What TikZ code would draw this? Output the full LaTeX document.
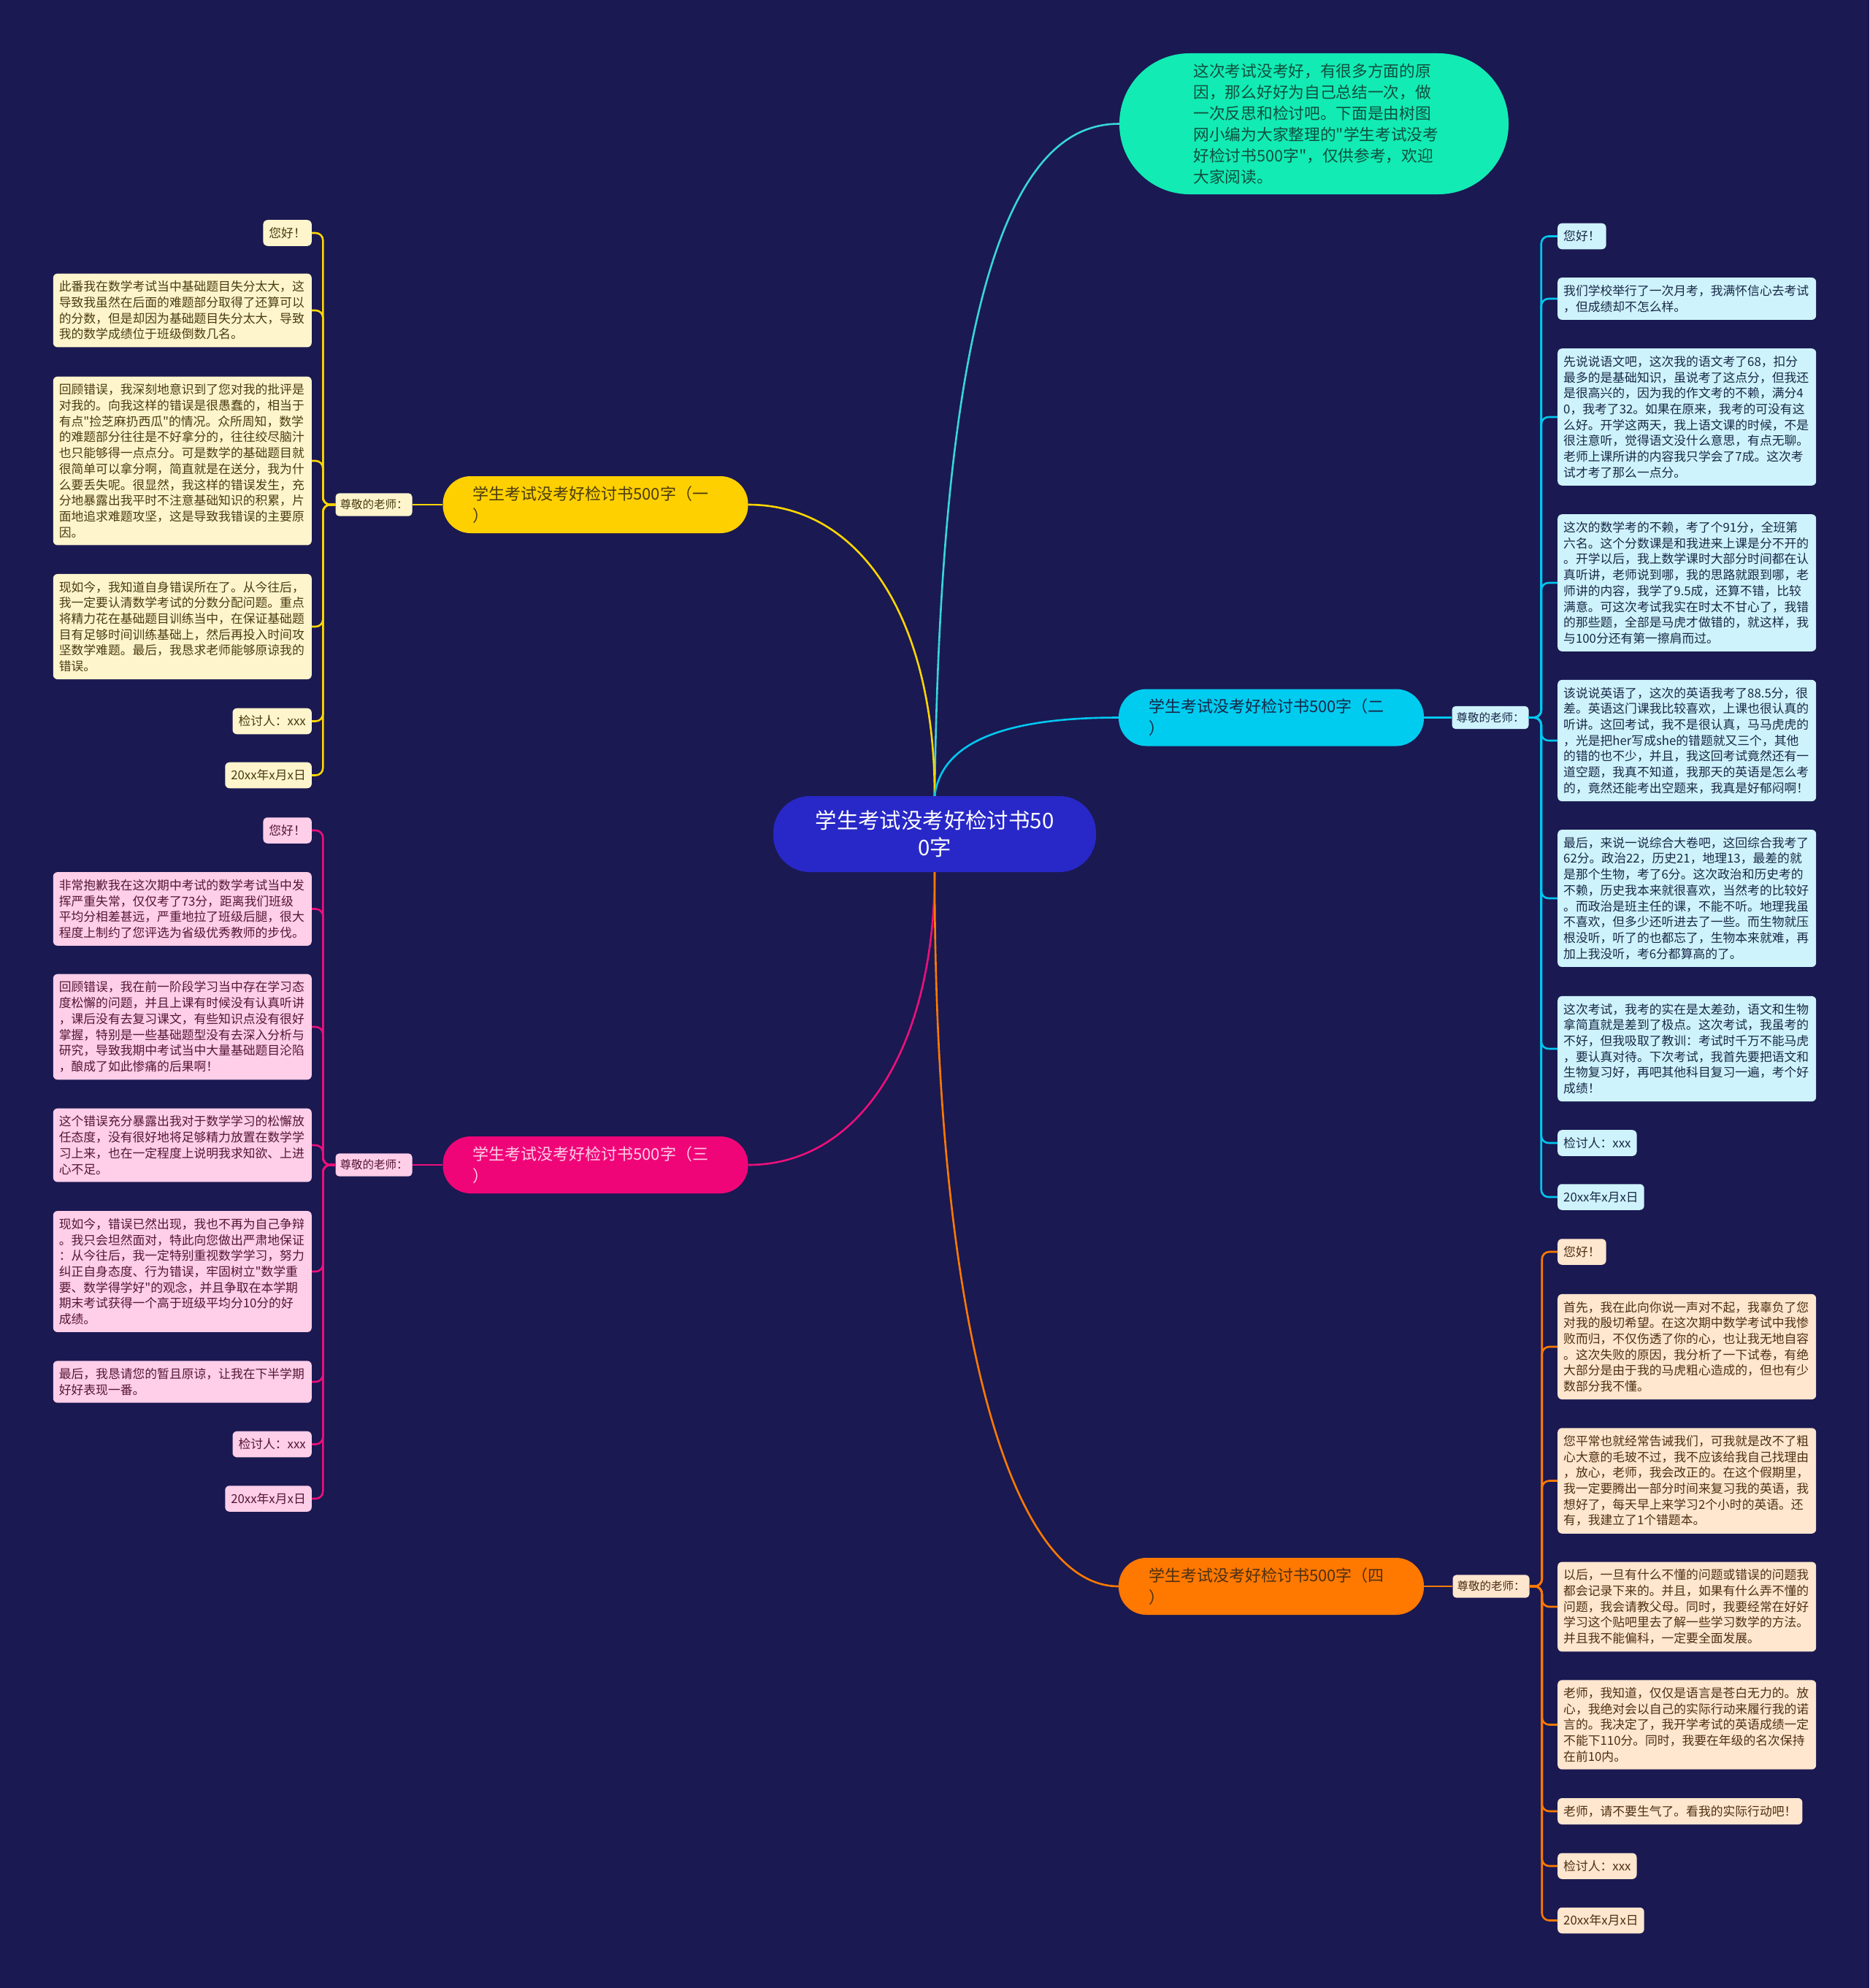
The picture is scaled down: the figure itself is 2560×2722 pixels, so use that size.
\documentclass[tikz,border=0pt]{standalone}
\usepackage{fontspec}
\setmainfont{Noto Sans CJK SC}[Ligatures=TeXOff]

\definecolor{bgnavy}{RGB}{26,25,82}
\definecolor{hubblue}{RGB}{40,40,200}
\definecolor{introfill}{RGB}{18,235,180}
\definecolor{introtext}{RGB}{16,80,62}
\definecolor{introline}{RGB}{56,214,214}
\definecolor{ylwfill}{RGB}{255,208,0}
\definecolor{ylwline}{RGB}{255,214,0}
\definecolor{ylwleaf}{RGB}{255,245,204}
\definecolor{ylwtext}{RGB}{74,60,16}
\definecolor{cyanfill}{RGB}{0,204,240}
\definecolor{cyanline}{RGB}{0,200,238}
\definecolor{cyanleaf}{RGB}{206,243,252}
\definecolor{cyantext}{RGB}{24,40,70}
\definecolor{pinkfill}{RGB}{240,5,120}
\definecolor{pinkline}{RGB}{236,16,122}
\definecolor{pinkleaf}{RGB}{255,206,232}
\definecolor{pinktext}{RGB}{84,22,52}
\definecolor{orgfill}{RGB}{255,120,0}
\definecolor{orgline}{RGB}{255,122,0}
\definecolor{orgleaf}{RGB}{255,230,206}
\definecolor{orgtext}{RGB}{78,48,18}

\newcommand\leaffont{\fontsize{16.8}{21.7}\selectfont}
\newcommand\tagfont{\fontsize{15.5}{19}\selectfont}
\newcommand\topicfont{\fontsize{22}{30}\selectfont}
\newcommand\hubfont{\fontsize{29.4}{37}\selectfont}
\newcommand\introfont{\fontsize{21.7}{29}\selectfont}

\tikzset{
  leafbox/.style={rounded corners=6pt, inner xsep=8pt, inner ysep=10pt,
    font=\leaffont, align=left},
  wideleaf/.style={leafbox, text width=338pt},
  tagbox/.style={rounded corners=5pt, inner xsep=6pt, inner ysep=8.5pt,
    font=\tagfont},
  topicbox/.style={rounded corners=38pt, minimum width=418pt,
    minimum height=78pt, text width=336pt, align=left, font=\topicfont},
  ylw/.style={fill=ylwleaf, text=ylwtext},
  cyn/.style={fill=cyanleaf, text=cyantext},
  pnk/.style={fill=pinkleaf, text=pinktext},
  org/.style={fill=orgleaf, text=orgtext},
  link/.style={line width=2.6pt, rounded corners=10pt}
}

\begin{document}
\begin{tikzpicture}[x=1pt, y=-1pt]
\useasboundingbox (0,0) rectangle (2560,2722);
\fill[bgnavy] (0,0) rectangle (2560,2722);

% centre and intro
\node[fill=hubblue, text=white, rounded corners=50pt, minimum width=442pt,
      minimum height=104pt, align=center, font=\hubfont] (hub) at (1280,1142)
  {学生考试没考好检讨书50\\0字};
\node[fill=introfill, text=introtext, rounded corners=96pt, minimum width=533pt,
      minimum height=193pt, text width=330pt, align=left, font=\introfont]
  (intro) at (1799.5,169.5)
  {这次考试没考好，有很多方面的原\\因，那么好好为自己总结一次，做\\一次反思和检讨吧。下面是由树图\\网小编为大家整理的"学生考试没考\\好检讨书500字"，仅供参考，欢迎\\大家阅读。};

% four topics
\node[topicbox, fill=ylwfill, text=ylwtext] (t1) at (815.5,691)
  {学生考试没考好检讨书500字（一\\）};
\node[topicbox, fill=cyanfill, text=cyantext] (t2) at (1741,982.5)
  {学生考试没考好检讨书500字（二\\）};
\node[topicbox, fill=pinkfill, text=pinkleaf] (t3) at (815.5,1595)
  {学生考试没考好检讨书500字（三\\）};
\node[topicbox, fill=orgfill, text=orgtext] (t4) at (1741,2172)
  {学生考试没考好检讨书500字（四\\）};

\draw[introline, line width=2.6pt] (hub.north) .. controls (1290,300) and (1420,169.5) .. (intro.west);
\draw[ylwline, line width=2.6pt] (hub.north) .. controls (1280,850) and (1180,691) .. (t1.east);
\draw[cyanline, line width=2.6pt] (hub.north) .. controls (1290,1010) and (1390,982.5) .. (t2.west);
\draw[pinkline, line width=2.6pt] (hub.south) .. controls (1280,1430) and (1180,1595) .. (t3.east);
\draw[orgline, line width=2.6pt] (hub.south) .. controls (1280,1800) and (1380,2172) .. (t4.west);

% salutation tags
\node[tagbox, ylw] (g1) at (512,691) {尊敬的老师：};
\node[tagbox, cyn] (g2) at (2041,982.5) {尊敬的老师：};
\node[tagbox, pnk] (g3) at (512,1595) {尊敬的老师：};
\node[tagbox, org] (g4) at (2042,2172) {尊敬的老师：};
\draw[ylwline, line width=2.6pt] (t1.west) -- (g1.east);
\draw[cyanline, line width=2.6pt] (t2.east) -- (g2.west);
\draw[pinkline, line width=2.6pt] (t3.west) -- (g3.east);
\draw[orgline, line width=2.6pt] (t4.east) -- (g4.west);

% branch one
\node[leafbox, ylw, anchor=east] (y1) at (427,319) {您好！};
\node[wideleaf, ylw, anchor=east] (y2) at (427,425)
  {此番我在数学考试当中基础题目失分太大，这\\导致我虽然在后面的难题部分取得了还算可以\\的分数，但是却因为基础题目失分太大，导致\\我的数学成绩位于班级倒数几名。};
\node[wideleaf, ylw, anchor=east] (y3) at (427,631)
  {回顾错误，我深刻地意识到了您对我的批评是\\对我的。向我这样的错误是很愚蠢的，相当于\\有点"捡芝麻扔西瓜"的情况。众所周知，数学\\的难题部分往往是不好拿分的，往往绞尽脑汁\\也只能够得一点点分。可是数学的基础题目就\\很简单可以拿分啊，简直就是在送分，我为什\\么要丢失呢。很显然，我这样的错误发生，充\\分地暴露出我平时不注意基础知识的积累，片\\面地追求难题攻坚，这是导致我错误的主要原\\因。};
\node[wideleaf, ylw, anchor=east] (y4) at (427,858)
  {现如今，我知道自身错误所在了。从今往后，\\我一定要认清数学考试的分数分配问题。重点\\将精力花在基础题目训练当中，在保证基础题\\目有足够时间训练基础上，然后再投入时间攻\\坚数学难题。最后，我恳求老师能够原谅我的\\错误。};
\node[leafbox, ylw, anchor=east] (y5) at (427,987.5) {检讨人：xxx};
\node[leafbox, ylw, anchor=east] (y6) at (427,1061.5) {20xx年x月x日};
\foreach \n in {y1,y2,y3,y4,y5,y6}
  \draw[link, ylwline] (g1.west) -- ++(-17,0) |- (\n.east);

% branch two
\node[leafbox, cyn, anchor=west] (c1) at (2133,323.5) {您好！};
\node[wideleaf, cyn, anchor=west] (c2) at (2133,409)
  {我们学校举行了一次月考，我满怀信心去考试\\，但成绩却不怎么样。};
\node[wideleaf, cyn, anchor=west] (c3) at (2133,571)
  {先说说语文吧，这次我的语文考了68，扣分\\最多的是基础知识，虽说考了这点分，但我还\\是很高兴的，因为我的作文考的不赖，满分4\\0，我考了32。如果在原来，我考的可没有这\\么好。开学这两天，我上语文课的时候，不是\\很注意听，觉得语文没什么意思，有点无聊。\\老师上课所讲的内容我只学会了7成。这次考\\试才考了那么一点分。};
\node[wideleaf, cyn, anchor=west] (c4) at (2133,798)
  {这次的数学考的不赖，考了个91分，全班第\\六名。这个分数课是和我进来上课是分不开的\\。开学以后，我上数学课时大部分时间都在认\\真听讲，老师说到哪，我的思路就跟到哪，老\\师讲的内容，我学了9.5成，还算不错，比较\\满意。可这次考试我实在时太不甘心了，我错\\的那些题，全部是马虎才做错的，就这样，我\\与100分还有第一擦肩而过。};
\node[wideleaf, cyn, anchor=west] (c5) at (2133,1014)
  {该说说英语了，这次的英语我考了88.5分，很\\差。英语这门课我比较喜欢，上课也很认真的\\听讲。这回考试，我不是很认真，马马虎虎的\\，光是把her写成she的错题就又三个，其他\\的错的也不少，并且，我这回考试竟然还有一\\道空题，我真不知道，我那天的英语是怎么考\\的，竟然还能考出空题来，我真是好郁闷啊！};
\node[wideleaf, cyn, anchor=west] (c6) at (2133,1230)
  {最后，来说一说综合大卷吧，这回综合我考了\\62分。政治22，历史21，地理13，最差的就\\是那个生物，考了6分。这次政治和历史考的\\不赖，历史我本来就很喜欢，当然考的比较好\\。而政治是班主任的课，不能不听。地理我虽\\不喜欢，但多少还听进去了一些。而生物就压\\根没听，听了的也都忘了，生物本来就难，再\\加上我没听，考6分都算高的了。};
\node[wideleaf, cyn, anchor=west] (c7) at (2133,1436)
  {这次考试，我考的实在是太差劲，语文和生物\\拿简直就是差到了极点。这次考试，我虽考的\\不好，但我吸取了教训：考试时千万不能马虎\\，要认真对待。下次考试，我首先要把语文和\\生物复习好，再吧其他科目复习一遍，考个好\\成绩！};
\node[leafbox, cyn, anchor=west] (c8) at (2133,1565) {检讨人：xxx};
\node[leafbox, cyn, anchor=west] (c9) at (2133,1639) {20xx年x月x日};
\foreach \n in {c1,c2,c3,c4,c5,c6,c7,c8,c9}
  \draw[link, cyanline] (g2.east) -- ++(17,0) |- (\n.west);

% branch three
\node[leafbox, pnk, anchor=east] (p1) at (427,1137) {您好！};
\node[wideleaf, pnk, anchor=east] (p2) at (427,1244.5)
  {非常抱歉我在这次期中考试的数学考试当中发\\挥严重失常，仅仅考了73分，距离我们班级\\平均分相差甚远，严重地拉了班级后腿，很大\\程度上制约了您评选为省级优秀教师的步伐。};
\node[wideleaf, pnk, anchor=east] (p3) at (427,1406)
  {回顾错误，我在前一阶段学习当中存在学习态\\度松懈的问题，并且上课有时候没有认真听讲\\，课后没有去复习课文，有些知识点没有很好\\掌握，特别是一些基础题型没有去深入分析与\\研究，导致我期中考试当中大量基础题目沦陷\\，酿成了如此惨痛的后果啊！};
\node[wideleaf, pnk, anchor=east] (p4) at (427,1568)
  {这个错误充分暴露出我对于数学学习的松懈放\\任态度，没有很好地将足够精力放置在数学学\\习上来，也在一定程度上说明我求知欲、上进\\心不足。};
\node[wideleaf, pnk, anchor=east] (p5) at (427,1741)
  {现如今，错误已然出现，我也不再为自己争辩\\。我只会坦然面对，特此向您做出严肃地保证\\：从今往后，我一定特别重视数学学习，努力\\纠正自身态度、行为错误，牢固树立"数学重\\要、数学得学好"的观念，并且争取在本学期\\期末考试获得一个高于班级平均分10分的好\\成绩。};
\node[wideleaf, pnk, anchor=east] (p6) at (427,1892)
  {最后，我恳请您的暂且原谅，让我在下半学期\\好好表现一番。};
\node[leafbox, pnk, anchor=east] (p7) at (427,1977.5) {检讨人：xxx};
\node[leafbox, pnk, anchor=east] (p8) at (427,2052) {20xx年x月x日};
\foreach \n in {p1,p2,p3,p4,p5,p6,p7,p8}
  \draw[link, pinkline] (g3.west) -- ++(-17,0) |- (\n.east);

% branch four
\node[leafbox, org, anchor=west] (o1) at (2133,1714) {您好！};
\node[wideleaf, org, anchor=west] (o2) at (2133,1844)
  {首先，我在此向你说一声对不起，我辜负了您\\对我的殷切希望。在这次期中数学考试中我惨\\败而归，不仅伤透了你的心，也让我无地自容\\。这次失败的原因，我分析了一下试卷，有绝\\大部分是由于我的马虎粗心造成的，但也有少\\数部分我不懂。};
\node[wideleaf, org, anchor=west] (o3) at (2133,2027.5)
  {您平常也就经常告诫我们，可我就是改不了粗\\心大意的毛玻不过，我不应该给我自己找理由\\，放心，老师，我会改正的。在这个假期里，\\我一定要腾出一部分时间来复习我的英语，我\\想好了，每天早上来学习2个小时的英语。还\\有，我建立了1个错题本。};
\node[wideleaf, org, anchor=west] (o4) at (2133,2200)
  {以后，一旦有什么不懂的问题或错误的问题我\\都会记录下来的。并且，如果有什么弄不懂的\\问题，我会请教父母。同时，我要经常在好好\\学习这个贴吧里去了解一些学习数学的方法。\\并且我不能偏科，一定要全面发展。};
\node[wideleaf, org, anchor=west] (o5) at (2133,2361.5)
  {老师，我知道，仅仅是语言是苍白无力的。放\\心，我绝对会以自己的实际行动来履行我的诺\\言的。我决定了，我开学考试的英语成绩一定\\不能下110分。同时，我要在年级的名次保持\\在前10内。};
\node[leafbox, org, anchor=west] (o6) at (2133,2480) {老师，请不要生气了。看我的实际行动吧！};
\node[leafbox, org, anchor=west] (o7) at (2133,2555) {检讨人：xxx};
\node[leafbox, org, anchor=west] (o8) at (2133,2629.5) {20xx年x月x日};
\foreach \n in {o1,o2,o3,o4,o5,o6,o7,o8}
  \draw[link, orgline] (g4.east) -- ++(17,0) |- (\n.west);
\end{tikzpicture}
\end{document}
